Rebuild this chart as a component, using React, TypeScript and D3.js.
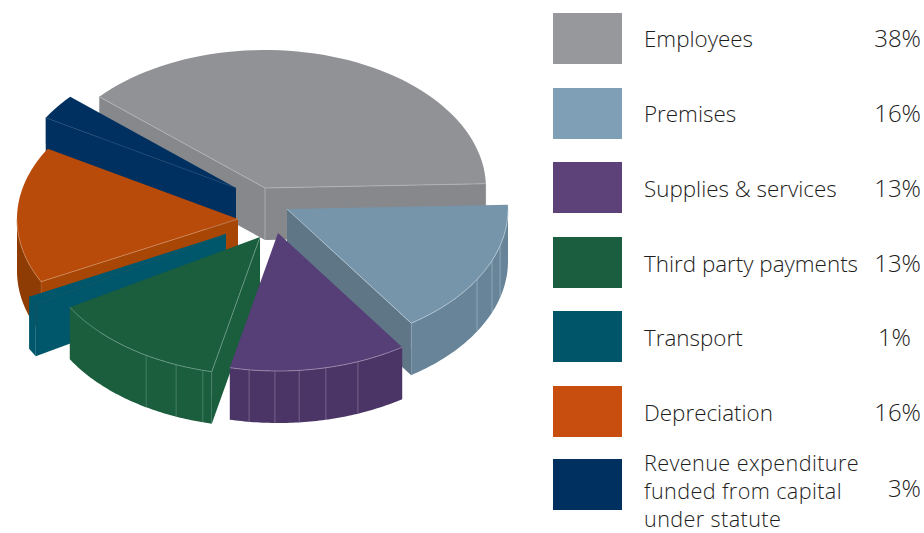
import React from "react";
import * as d3 from "d3";

const categories = ["Employees", "Premises", "Supplies & services", "Third party payments", "Transport", "Depreciation", "Revenue expenditure|funded from capital|under statute"];
const values = [38, 16, 13, 13, 1, 16, 3];
const pctLabels = ["38%", "16%", "13%", "13%", "1%", "16%", "3%"];
const swatchColors = ["#97989c", "#7f9fb6", "#5d4279", "#1a5e3f", "#005569", "#c84e0f", "#003060"];
const topColors = ["#919296", "#7695aa", "#563e77", "#1a5e3e", "#00566a", "#b84a0a", "#003060"];
const faceColors = ["#87888b", "#5f7687", "#4b3566", "#1a5e3e", "#00566a", "#a84606", "#003060"];
const wallColors = ["#8b8b8e", "#688499", "#4b3566", "#1a5e3e", "#00566a", "#8e3c03", "#003060"];
const edgeColors = ["#b4b5b8", "#b6c8d4", "#9d8fb0", "#6f9c86", "#085c6f", "#cf8a5c", "#1f4a76"];
// degrees on the pie where the outer wall shows a rib
const ribAngles = [[], [15.4, 21.9, 30.7], [68.8, 77.5, 84.5, 90.8, 97.5], [105, 112.3, 121], [], [], []];
// explode: where each slice's apex sits
const apexX = [265, 287, 278, 260, 226, 238, 236];
const apexY = [188, 209, 233, 237, 234, 219, 188];
const drawOrder = [0, 6, 5, 4, 1, 3, 2];

const rx = 221;
const ry = 138;
const depth = 52;
const rad = (d: number) => (d * Math.PI) / 180;

const legendY = [13, 88, 162, 237, 311, 386, 459];
const legendBase = [47, 122, 197, 272, 346, 421, 470.5];

const FONT = "'Open Sans', sans-serif";

const arcs = d3.pie<number>().sort(null).startAngle(rad(221.4)).endAngle(rad(581.4))(values);

function Slice({ i }: { i: number }) {
  const { startAngle: a0, endAngle: a1 } = arcs[i];
  const ax = apexX[i];
  const ay = apexY[i];
  const pt = (t: number, dz = 0): [number, number] => [ax + rx * Math.cos(t), ay + ry * Math.sin(t) + dz];
  const line = d3.line();
  const sample = (s: number, e: number, dz = 0) =>
    d3.range(0, 61).map((k) => pt(s + ((e - s) * k) / 60, dz));
  const apex: [number, number] = [ax, ay];
  const apexB: [number, number] = [ax, ay + depth];
  const topPath = line([apex, ...sample(a0, a1)]) + "Z";

  const showStart = Math.cos(a0) < 0;
  const showEnd = Math.cos(a1) > 0;
  const startFace = line([apex, pt(a0), pt(a0, depth), apexB]) + "Z";
  const endFace = line([apex, pt(a1), pt(a1, depth), apexB]) + "Z";

  const walls: [number, number][] = [];
  for (const k of [0, 1]) {
    const s = Math.max(a0, rad(360 * k));
    const e = Math.min(a1, rad(360 * k + 180));
    if (e > s) walls.push([s, e]);
  }
  const W = 0.8;
  const edge = edgeColors[i];
  return (
    <g>
      {showStart && <path d={startFace} fill={faceColors[i]} />}
      {showEnd && <path d={endFace} fill={faceColors[i]} />}
      {walls.map(([s, e], k) => (
        <path key={k} d={line([...sample(s, e), ...sample(e, s, depth)]) + "Z"} fill={wallColors[i]} />
      ))}
      {ribAngles[i].map((d) => {
        const [x, y] = pt(rad(d));
        return <line key={d} x1={x} y1={y} x2={x} y2={y + depth} stroke={edge} strokeWidth={0.8} strokeOpacity={0.65} />;
      })}
      <path d={topPath} fill={topColors[i]} />
      {walls.map(([s, e], k) => (
        <path key={k} d={line(sample(s, e)) as string} fill="none" stroke={edge} strokeWidth={W} />
      ))}
      {showStart && <path d={line([apex, pt(a0)]) as string} fill="none" stroke={edge} strokeWidth={W} />}
      {showEnd && <path d={line([apex, pt(a1)]) as string} fill="none" stroke={edge} strokeWidth={W} />}
      {showStart && (
        <line x1={pt(a0)[0]} y1={pt(a0)[1]} x2={pt(a0)[0]} y2={pt(a0)[1] + depth * 0.5} stroke={edge} strokeWidth={0.6} strokeOpacity={0.4} />
      )}
      {showEnd && (
        <line x1={pt(a1)[0]} y1={pt(a1)[1]} x2={pt(a1)[0]} y2={pt(a1)[1] + depth * 0.5} stroke={edge} strokeWidth={0.6} strokeOpacity={0.4} />
      )}
      {showStart && showEnd && <line x1={ax} y1={ay} x2={ax} y2={ay + depth} stroke={edge} strokeWidth={W} />}
    </g>
  );
}

export default function App() {
  return (
    <svg
      width={924}
      height={533}
      viewBox="0 0 924 533"
      style={{ position: "absolute", left: 0, top: 0, background: "#fff" }}
    >
      {drawOrder.map((i) => (
        <Slice key={i} i={i} />
      ))}
      {categories.map((c, i) => {
        const lines = c.split("|");
        const multi = lines.length > 1;
        return (
          <g key={c}>
            <rect x={553} y={legendY[i]} width={69} height={51} fill={swatchColors[i]} />
            {lines.map((t, k) => (
              <text
                key={k}
                x={644}
                y={legendBase[i] + k * 28}
                fontFamily={FONT}
                fontWeight={300}
                fontSize={multi ? 21.6 : 22.4}
                letterSpacing={multi ? 0.4 : 0}
                fill="#1d1d1b"
              >
                {t}
              </text>
            ))}
            <text
              x={i === 4 ? 911 : 921}
              y={i === 6 ? 497 : legendBase[i]}
              textAnchor="end"
              fontFamily={FONT}
              fontWeight={300}
              fontSize={24}
              fill="#1d1d1b"
            >
              {pctLabels[i]}
            </text>
          </g>
        );
      })}
    </svg>
  );
}
